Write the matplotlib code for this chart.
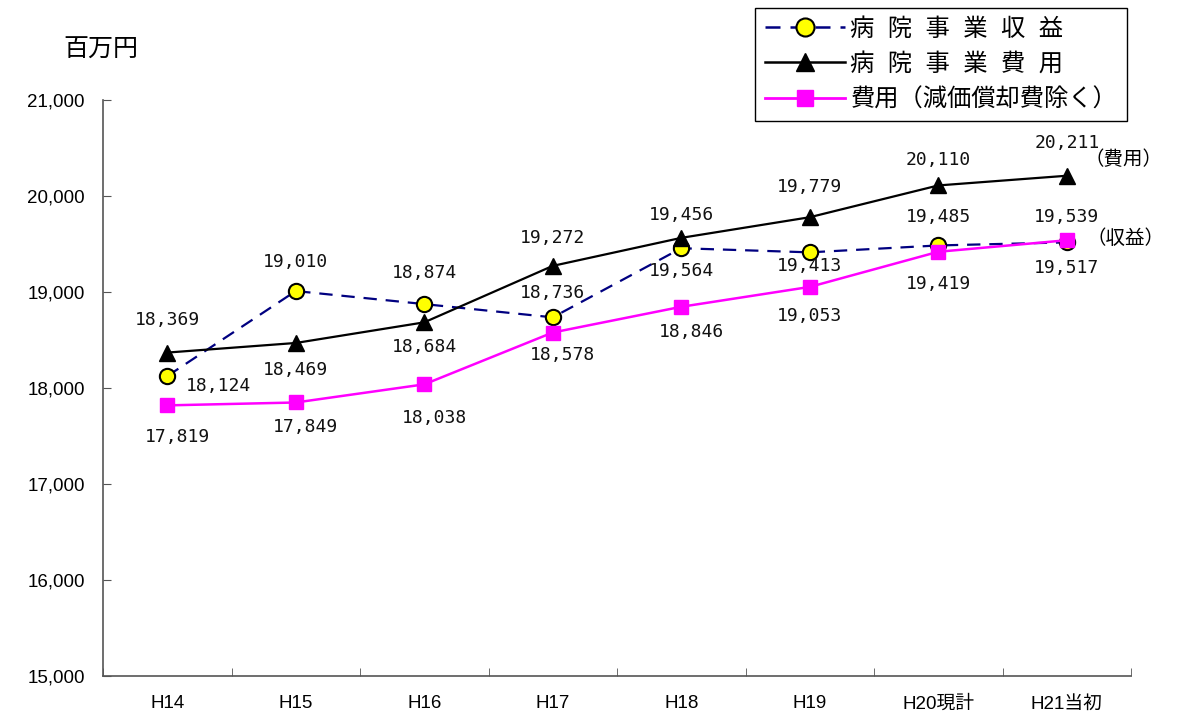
import matplotlib
matplotlib.use("Agg")
import matplotlib.pyplot as plt
from matplotlib.lines import Line2D

plt.rcParams['font.family'] = ['Liberation Sans', 'Noto Sans CJK JP', 'DejaVu Sans']

categories = ["H14", "H15", "H16", "H17", "H18", "H19", "H20現計", "H21当初"]
revenue = [18124, 19010, 18874, 18736, 19456, 19413, 19485, 19517]
expense = [18369, 18469, 18684, 19272, 19564, 19779, 20110, 20211]
expense_ex_dep = [17819, 17849, 18038, 18578, 18846, 19053, 19419, 19539]
yticks = [15000, 16000, 17000, 18000, 19000, 20000, 21000]

# label offsets in pixels (dx, dy) : style only
rev_off = [(51, -10), (0, 29), (0, 31), (0, 24), (0, 33), (0, -14), (0, 28), (0, -26)]
exp_off = [(0, 33), (0, -27), (0, -25), (0, 28), (0, -33), (0, 30), (0, 25), (0, 33)]
dep_off = [(10, -32), (10, -25), (10, -34), (10, -22), (10, -25), (0, -29), (0, -32), (0, 23)]

fig = plt.figure(figsize=(11.77, 7.2), dpi=100)
ax = fig.add_axes([103/1177, 44/720, 1028/1177, 576/720])
x = list(range(len(categories)))

ax.plot(x, revenue, color='#000080', lw=1.6, ls=(0, (6, 4)), marker='o', ms=11,
        mfc='#FFFF00', mec='black', mew=1.5, zorder=3)
ax.plot(x, expense, color='black', lw=1.6, marker='^', ms=11, mfc='black', mec='black', zorder=4)
ax.plot(x, expense_ex_dep, color='#FF00FF', lw=1.8, marker='s', ms=10, mfc='#FF00FF', mec='#FF00FF', zorder=5)

lab_font = dict(family='DejaVu Sans Mono', fontsize=13, ha='center', va='center', color='#111111')
for series, offs in ((revenue, rev_off), (expense, exp_off), (expense_ex_dep, dep_off)):
    for xi, v, (dx, dy) in zip(x, series, offs):
        ax.annotate(f"{v:,}", (xi, v), xytext=(dx, dy), textcoords='offset pixels', **lab_font)

ax.set_xlim(-0.5, len(categories) - 0.5)
ax.set_ylim(15000, 21000)
ax.set_yticks(yticks)
ax.set_yticklabels([f"{v:,}" for v in yticks], fontsize=13.5)
ax.set_xticks(x)
ax.set_xticklabels(categories, fontsize=13.5)
ax.set_xticks([i + 0.5 for i in range(-1, len(categories))], minor=True)
ax.tick_params(axis='x', which='major', length=0, pad=14)
ax.tick_params(axis='x', which='minor', direction='in', length=6, color='#555555')
ax.tick_params(axis='y', direction='in', length=6, color='#555555', pad=13)
for s in ('top', 'right'):
    ax.spines[s].set_visible(False)
for s in ('left', 'bottom'):
    ax.spines[s].set_color('#555555')
    ax.spines[s].set_linewidth(1.2)

fig.text(101/1177, 1 - 50/720, "百万円", fontsize=18, ha='center', va='center')
fig.text(1124/1177, 1 - 160/720, "（費用）", fontsize=14, ha='center', va='center')
fig.text(1126/1177, 1 - 239/720, "（収益）", fontsize=14, ha='center', va='center')

handles = [
    Line2D([], [], color='#000080', lw=1.8, ls=(0, (6, 4)), marker='o', ms=13, mfc='#FFFF00', mec='black', mew=1.5),
    Line2D([], [], color='black', lw=1.8, marker='^', ms=13, mfc='black'),
    Line2D([], [], color='#FF00FF', lw=2, marker='s', ms=12, mfc='#FF00FF', mec='#FF00FF'),
]
labels = ["病  院  事  業  収  益", "病  院  事  業  費  用", "費用（減価償却費除く）"]
leg = fig.legend(handles, labels, loc='upper left', bbox_to_anchor=(755/1177, 1 - 8/720),
                 fontsize=17.5, frameon=True, fancybox=False, edgecolor='black', framealpha=1,
                 handlelength=3.3, handletextpad=0.2, borderpad=0.42, labelspacing=0.5,
                 borderaxespad=0)
leg.get_frame().set_linewidth(1.0)

fig.savefig("out.png", dpi=100)
